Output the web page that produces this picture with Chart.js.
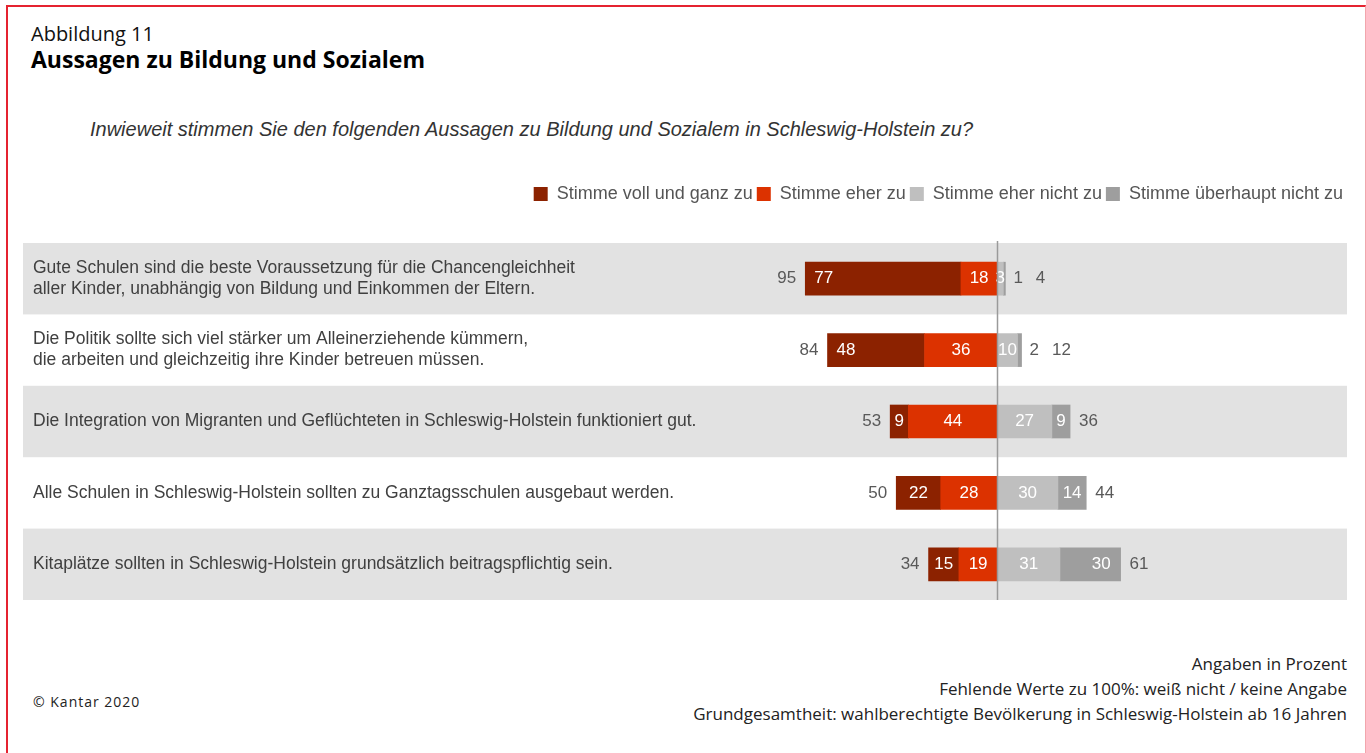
<!DOCTYPE html>
<html lang="de">
<head>
<meta charset="utf-8">
<title>Aussagen zu Bildung und Sozialem</title>
<script src="https://cdn.jsdelivr.net/npm/chart.js@4.4.1/dist/chart.umd.min.js"></script>
<style>
  html, body { margin: 0; padding: 0; background: #fff; }
  body { width: 1366px; height: 753px; position: relative; overflow: hidden; font-family: "Liberation Sans", Arial, sans-serif; }
  .rahmen { position: absolute; left: 6px; top: 5px; width: 1357px; height: 800px;
            border-top: 2px solid #e52330; border-left: 2px solid #e52330; border-right: 1px solid #f2a6ad; }
  .abb { position: absolute; left: 31px; top: 20px; font: 20px "Open Sans", sans-serif; color: #111; }
  .titel { position: absolute; left: 31px; top: 43px; font: bold 23px "Open Sans", sans-serif; color: #000; }
  .frage { position: absolute; left: 90px; top: 118px; font: italic 20px "Liberation Sans", Arial, sans-serif; color: #333; }
  #wrap { position: absolute; left: 23px; top: 181px; width: 1324px; height: 419px; }
  .copy { position: absolute; left: 33px; top: 692px; font: 14px "Open Sans", sans-serif; letter-spacing: 1px; color: #222; }
  .hinweis { position: absolute; right: 19px; top: 651px; text-align: right; font: 17px/25px "Open Sans", sans-serif; color: #222; }
</style>
</head>
<body>
<div class="rahmen"></div>
<div class="abb">Abbildung 11</div>
<div class="titel">Aussagen zu Bildung und Sozialem</div>
<div class="frage">Inwieweit stimmen Sie den folgenden Aussagen zu Bildung und Sozialem in Schleswig-Holstein zu?</div>
<div id="wrap"><canvas id="chart"></canvas></div>
<div class="copy">© Kantar 2020</div>
<div class="hinweis">Angaben in Prozent<br>Fehlende Werte zu 100%: weiß nicht / keine Angabe<br>Grundgesamtheit: wahlberechtigte Bevölkerung in Schleswig-Holstein ab 16 Jahren</div>

<script>
const aussagen = [
  ["Gute Schulen sind die beste Voraussetzung für die Chancengleichheit", "aller Kinder, unabhängig von Bildung und Einkommen der Eltern."],
  ["Die Politik sollte sich viel stärker um Alleinerziehende kümmern,", "die arbeiten und gleichzeitig ihre Kinder betreuen müssen."],
  "Die Integration von Migranten und Geflüchteten in Schleswig-Holstein funktioniert gut.",
  "Alle Schulen in Schleswig-Holstein sollten zu Ganztagsschulen ausgebaut werden.",
  "Kitaplätze sollten in Schleswig-Holstein grundsätzlich beitragspflichtig sein."
];

const vollUndGanz     = [77, 48, 9, 22, 15];
const eherZu          = [18, 36, 44, 28, 19];
const eherNicht       = [3, 10, 27, 30, 31];
const ueberhauptNicht = [1, 2, 9, 14, 30];

const summeZustimmung = [95, 84, 53, 50, 34];
const summeAblehnung  = [4, 12, 36, 44, 61];

// Zustimmung geht nach links (negativ), Ablehnung nach rechts.
// Reihenfolge der Datasets = Stapelreihenfolge ab der Nulllinie.
const datasets = [
  { label: "Stimme eher zu", data: eherZu.map(v => -v), backgroundColor: "#dc3200", anker: "mitte", legende: 1 },
  { label: "Stimme voll und ganz zu", data: vollUndGanz.map(v => -v), backgroundColor: "#8c2200", anker: "aussen", legende: 0 },
  { label: "Stimme eher nicht zu", data: eherNicht, backgroundColor: "#bfbfbf", anker: "mitte", legende: 2 },
  { label: "Stimme überhaupt nicht zu", data: ueberhauptNicht, backgroundColor: "#9e9e9e", anker: "aussen", legende: 3 }
];

const schrift = "'Liberation Sans', Arial, sans-serif";

// graue Streifen hinter jeder zweiten Zeile (vor den Achsen zeichnen, sonst sind die Texte weg)
const streifen = {
  id: "streifen",
  beforeDraw(chart) {
    const { ctx, chartArea, scales: { y } } = chart;
    const h = (chartArea.bottom - chartArea.top) / aussagen.length;
    ctx.save();
    ctx.fillStyle = "#e2e2e2";
    aussagen.forEach((_, i) => {
      if (i % 2 === 0) {
        const mitte = y.getPixelForValue(i);
        ctx.fillRect(chartArea.left, mitte - h / 2, chartArea.right - chartArea.left, h);
      }
    });
    ctx.restore();
  }
};

// Zahlen in/neben den Balken, Summen links und rechts, Nulllinie
const wertLabels = {
  id: "wertLabels",
  afterDatasetsDraw(chart) {
    const { ctx, chartArea, scales: { x } } = chart;
    ctx.save();
    ctx.font = "17px " + schrift;
    ctx.textBaseline = "middle";
    const links = [], rechts = [], mitteY = [];
    chart.data.datasets.forEach((ds, di) => {
      chart.getDatasetMeta(di).data.forEach((bar, i) => {
        const l = Math.min(bar.x, bar.base), r = Math.max(bar.x, bar.base);
        const w = r - l;
        const text = String(Math.abs(ds.data[i]));
        const tw = ctx.measureText(text).width;
        mitteY[i] = bar.y;
        links[i] = Math.min(links[i] ?? Infinity, l);
        if (ds.data[i] > 0) rechts[i] = Math.max(rechts[i] ?? -Infinity, r);
        let px, align = "center", farbe = "#fff";
        if (ds.anker === "aussen" && w < 8) {
          // zu schmal: Zahl neben den Balken
          px = r + 8; align = "left"; farbe = "#595959";
          rechts[i] = Math.max(rechts[i], px + tw + 4);
        } else if (ds.anker === "aussen" && w > 55) {
          if (ds.data[i] < 0) { px = l + 9; align = "left"; }
          else { px = r - 10; align = "right"; }
        } else {
          px = (l + r) / 2;
        }
        ctx.fillStyle = farbe;
        ctx.textAlign = align;
        ctx.fillText(text, px, bar.y);
      });
    });
    ctx.fillStyle = "#595959";
    summeZustimmung.forEach((v, i) => {
      ctx.textAlign = "right";
      ctx.fillText(String(v), links[i] - 9, mitteY[i]);
    });
    summeAblehnung.forEach((v, i) => {
      ctx.textAlign = "left";
      ctx.fillText(String(v), rechts[i] + 9, mitteY[i]);
    });
    const x0 = Math.round(x.getPixelForValue(0)) + 0.5;
    ctx.strokeStyle = "#9a9a9a";
    ctx.lineWidth = 1.5;
    ctx.beginPath();
    ctx.moveTo(x0, chartArea.top - 2);
    ctx.lineTo(x0, chartArea.bottom);
    ctx.stroke();
    ctx.restore();
  }
};

// Abstand zwischen Legende und Diagramm
const legendenAbstand = {
  id: "legendenAbstand",
  beforeInit(chart) {
    if (!chart.legend) return;
    const fit = chart.legend.fit;
    chart.legend.fit = function () {
      fit.call(this);
      this.height += 30;
    };
  }
};

new Chart(document.getElementById("chart"), {
  type: "bar",
  data: { labels: aussagen, datasets },
  plugins: [streifen, wertLabels, legendenAbstand],
  options: {
    indexAxis: "y",
    responsive: true,
    maintainAspectRatio: false,
    animation: false,
    layout: { padding: 0 },
    datasets: { bar: { barThickness: 33, borderWidth: 0 } },
    scales: {
      x: { stacked: true, min: -482, max: 173, display: false },
      y: {
        stacked: true,
        grid: { display: false, drawTicks: false },
        border: { display: false },
        ticks: {
          mirror: true,
          padding: 10,
          color: "#404040",
          font: { family: schrift, size: 17.5, lineHeight: 1.2 }
        },
        afterFit(scale) {
          // Texte liegen innerhalb der Zeilen, die Achse braucht keinen Platz
          scale.width = 0;
          scale.paddingTop = 0;
          scale.paddingBottom = 0;
        }
      }
    },
    plugins: {
      tooltip: { enabled: false },
      legend: {
        position: "top",
        align: "end",
        labels: {
          boxWidth: 14,
          boxHeight: 14,
          padding: 4,
          color: "#555",
          font: { family: schrift, size: 18 },
          sort: (a, b) => datasets[a.datasetIndex].legende - datasets[b.datasetIndex].legende
        }
      }
    }
  }
});
</script>
</body>
</html>
